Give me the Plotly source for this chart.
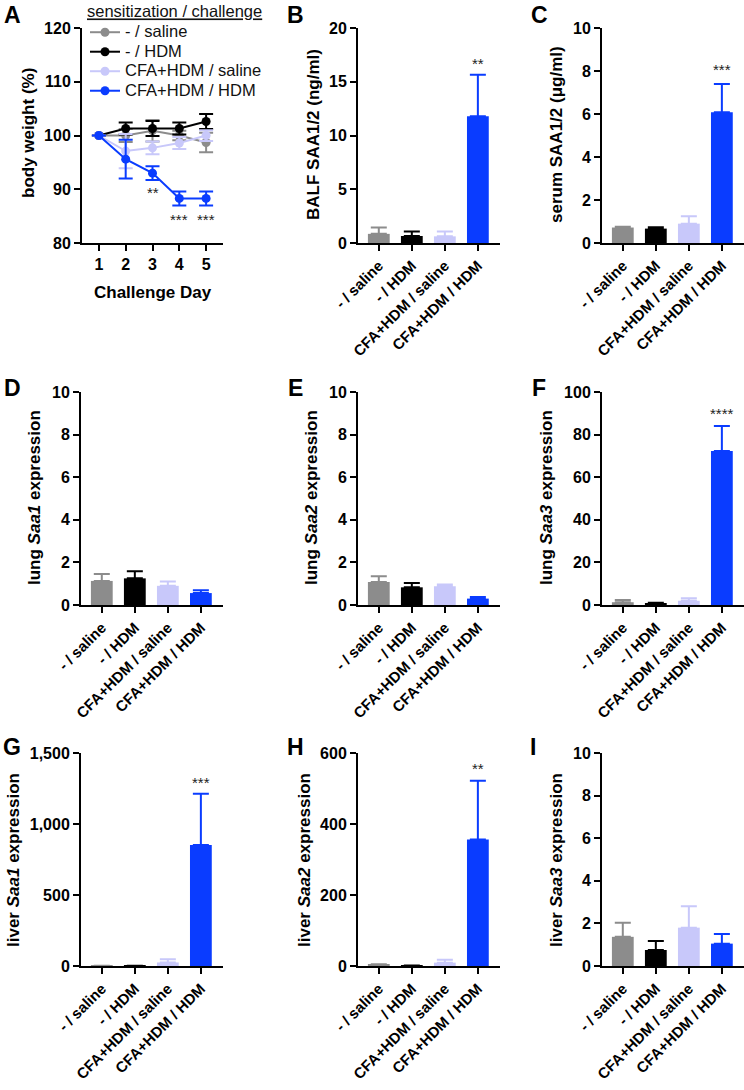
import plotly.graph_objects as go

FONT = "Liberation Sans, Arial, sans-serif"
W, H = 744, 1090

# ---------------- data ----------------
groups = ["- / saline", "- / HDM", "CFA+HDM / saline", "CFA+HDM / HDM"]
group_colors = ["#8c8c8c", "#000000", "#c8c8fa", "#0a3cff"]

days = [1, 2, 3, 4, 5]
bw_saline = [100, 100.0, 100.9, 100.0, 98.7]
bw_saline_err = [None, 1.2, 2.0, 0.9, 1.8]
bw_hdm = [100, 101.3, 101.3, 101.3, 102.6]
bw_hdm_err = [None, 1.1, 1.4, 1.1, 1.4]
bw_cfa_saline = [100, 97.1, 97.7, 98.6, 100.0]
bw_cfa_saline_err = [None, 3.2, 1.2, 1.1, 1.0]
bw_cfa_hdm = [100, 95.6, 93.0, 88.3, 88.3]
bw_cfa_hdm_err = [None, 3.6, 1.3, 1.3, 1.3]
bw_star_days = [3, 4, 5]
bw_star_text = ["**", "***", "***"]
bw_star_y = [90.0, 84.9, 84.9]

balf_saa = [0.85, 0.65, 0.62, 11.8]
balf_saa_err = [0.6, 0.42, 0.45, 3.85]
serum_saa = [0.72, 0.67, 0.9, 6.08]
serum_saa_err = [0.04, 0.06, 0.35, 1.32]
lung_saa1 = [1.13, 1.25, 0.9, 0.56]
lung_saa1_err = [0.32, 0.34, 0.2, 0.13]
lung_saa2 = [1.08, 0.83, 0.88, 0.3]
lung_saa2_err = [0.27, 0.2, 0.08, 0.08]
lung_saa3 = [1.3, 0.6, 2.0, 72.3]
lung_saa3_err = [1.0, 0.4, 1.2, 11.7]
liver_saa1 = [1.5, 1.0, 25, 852]
liver_saa1_err = [1.0, 0.5, 22, 361]
liver_saa2 = [3.5, 0.8, 9.5, 356]
liver_saa2_err = [1.5, 0.5, 8, 166]
liver_saa3 = [1.37, 0.75, 1.8, 1.05]
liver_saa3_err = [0.66, 0.42, 1.0, 0.45]

# ---------------- layout helpers ----------------
def dom(l, r, t, b):
    return [l / W, r / W], [1 - b / H, 1 - t / H]

cols = [(82, 223), (358, 500), (602, 744)]
rows = [(28, 243), (392, 605), (753, 966)]

fig = go.Figure()
layout = dict(
    template="none",
    width=W, height=H, margin=dict(l=0, r=0, t=0, b=0, autoexpand=False),
    paper_bgcolor="white", plot_bgcolor="white",
    font=dict(family=FONT, color="black"),
    barmode="overlay", showlegend=True,
)
annotations = []

def axis_common():
    return dict(showline=True, linewidth=2, linecolor="black", showgrid=False,
                zeroline=False, ticks="outside", ticklen=6, tickwidth=2,
                tickcolor="black", mirror=False, automargin=False)

# ---------------- panel A ----------------
xd, yd = dom(cols[0][0], cols[0][1], rows[0][0], rows[0][1])
layout["xaxis"] = dict(axis_common(), domain=xd, anchor="y", range=[0.37, 5.63],
                       tickvals=days, tickfont=dict(size=16, weight="bold"))
layout["yaxis"] = dict(axis_common(), domain=yd, anchor="x", range=[80, 120],
                       dtick=10, tickfont=dict(size=16, weight="bold"))
bw_series = [(bw_saline, bw_saline_err), (bw_hdm, bw_hdm_err),
             (bw_cfa_saline, bw_cfa_saline_err), (bw_cfa_hdm, bw_cfa_hdm_err)]
for g, c, (m, e) in zip(groups, group_colors, bw_series):
    fig.add_trace(go.Scatter(
        x=days, y=m, name=f'<span style="font-size:16.5px">{g}</span>',
        mode="lines+markers", xaxis="x", yaxis="y",
        line=dict(color=c, width=2), marker=dict(color=c, size=9),
        error_y=dict(type="data", array=e, color=c, thickness=2, width=7),
    ))
for d, t, yv in zip(bw_star_days, bw_star_text, bw_star_y):
    annotations.append(dict(x=d, y=yv, xref="x", yref="y", text=t, showarrow=False,
                            font=dict(size=15, color="#222"), yshift=-3))

# ---------------- bar panels ----------------
bar_panels = [
    ("B", 1, 0, balf_saa, balf_saa_err, [0, 20], 5, None, "**", 17.0),
    ("C", 2, 0, serum_saa, serum_saa_err, [0, 10], 2, None, "***", 8.2),
    ("D", 0, 1, lung_saa1, lung_saa1_err, [0, 10], 2, None, None, None),
    ("E", 1, 1, lung_saa2, lung_saa2_err, [0, 10], 2, None, None, None),
    ("F", 2, 1, lung_saa3, lung_saa3_err, [0, 100], 20, None, "****", 91.5),
    ("G", 0, 2, liver_saa1, liver_saa1_err, [0, 1500], 500, ",", "***", 1310),
    ("H", 1, 2, liver_saa2, liver_saa2_err, [0, 600], 200, None, "**", 565),
    ("I", 2, 2, liver_saa3, liver_saa3_err, [0, 10], 2, None, None, None),
]
for i, (letter, ci, ri, vals, errs, yr, dt, tf, star, stary) in enumerate(bar_panels, start=2):
    l, r = cols[ci]
    t, b = rows[ri]
    xd, yd = dom(l if ci else 81, r, t, b)
    xa, ya = f"x{i}", f"y{i}"
    layout[f"xaxis{i}"] = dict(axis_common(), domain=xd, anchor=ya, type="category",
                               categoryorder="array", categoryarray=groups,
                               range=[-0.63, 3.67], tickangle=-45,
                               tickfont=dict(size=15, weight="bold"))
    ydict = dict(axis_common(), domain=yd, anchor=xa, range=yr, dtick=dt,
                 tickfont=dict(size=16, weight="bold"))
    if tf:
        ydict["tickformat"] = tf
    layout[f"yaxis{i}"] = ydict
    for g, c, v, e in zip(groups, group_colors, vals, errs):
        fig.add_trace(go.Bar(
            x=[g], y=[v], xaxis=xa, yaxis=ya, width=0.66, showlegend=False,
            marker=dict(color=c, line=dict(width=0)),
            error_y=dict(type="data", array=[e], arrayminus=[0], symmetric=False,
                         color=c, thickness=2, width=8),
        ))
    if star:
        annotations.append(dict(x=groups[3], y=stary, xref=xa, yref=ya, text=star,
                                showarrow=False, font=dict(size=15, color="#222"), yshift=-3))

# ---------------- titles & letters ----------------
ytitles = [
    ("body weight (%)", 29, 133),
    ("BALF SAA1/2 (ng/ml)", 313, 135),
    ("serum SAA1/2 (\u03bcg/ml)", 556, 135),
    ("lung <i>Saa1</i> expression", 35, 498),
    ("lung <i>Saa2</i> expression", 312, 498),
    ("lung <i>Saa3</i> expression", 547, 498),
    ("liver <i>Saa1</i> expression", 13, 860),
    ("liver <i>Saa2</i> expression", 304, 860),
    ("liver <i>Saa3</i> expression", 556, 860),
]
for txt, px, py in ytitles:
    annotations.append(dict(x=px / W, y=1 - py / H, xref="paper", yref="paper",
                            text=f"<b>{txt}</b>", textangle=-90, showarrow=False,
                            xanchor="center", yanchor="middle",
                            font=dict(size=17, color="black")))
annotations.append(dict(x=152.5 / W, y=1 - 292 / H, xref="paper", yref="paper",
                        text="<b>Challenge Day</b>", showarrow=False,
                        xanchor="center", yanchor="middle", font=dict(size=17)))
letters = [("A", 13, 15), ("B", 295, 15), ("C", 539, 15),
           ("D", 13, 388), ("E", 295, 388), ("F", 539, 388),
           ("G", 12, 747), ("H", 295, 747), ("I", 533, 747)]
for t, px, py in letters:
    annotations.append(dict(x=px / W, y=1 - py / H, xref="paper", yref="paper",
                            text=f"<b>{t}</b>", showarrow=False,
                            xanchor="center", yanchor="middle", font=dict(size=23)))

layout["annotations"] = annotations
layout["legend"] = dict(
    x=85 / W, y=1 + 4 / H, xanchor="left", yanchor="top",
    bgcolor="rgba(0,0,0,0)", borderwidth=0,
    font=dict(size=12.7, color="#111"), tracegroupgap=0, itemwidth=30,
    title=dict(text='<span style="text-decoration:underline">sensitization / challenge</span>',
               font=dict(size=16.5), side="top"),
)
fig.update_layout(**layout)
fig.write_html("out.html", config={"displayModeBar": False},
               post_script="document.body.style.margin='0px';")
